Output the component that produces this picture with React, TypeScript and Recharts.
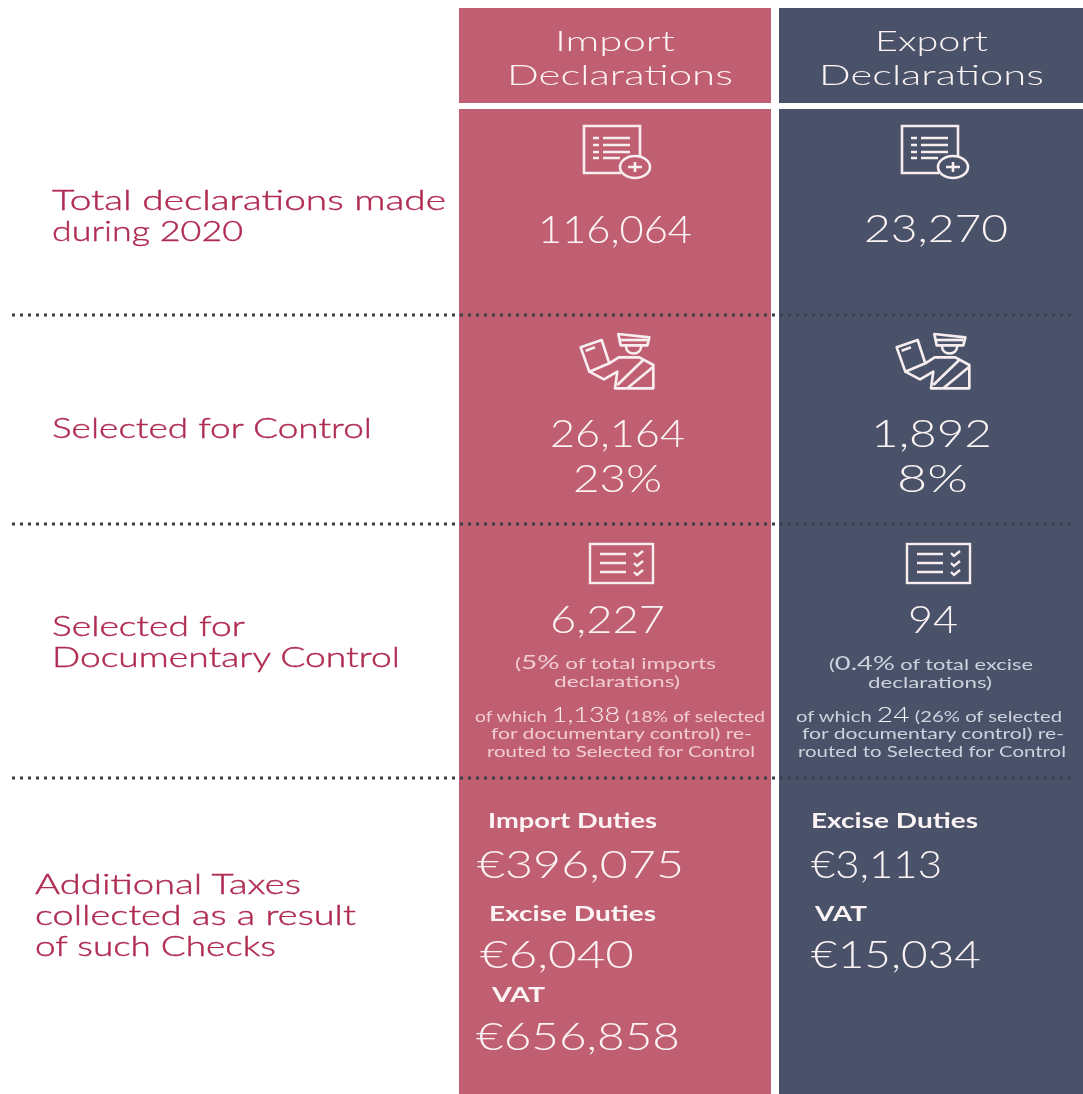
import { Bar, BarChart, Cell, LineChart, ReferenceLine, XAxis, YAxis } from "recharts";

const categories = ["Import", "Export"];
const panelColors = ["#C05F72", "#495269"];
const totalDeclarations = [116064, 23270];
const selectedForControl = [26164, 1892];
const selectedShare = [23, 8];
const documentaryControl = [6227, 94];
const documentaryShare = [5, 0.4];
const rerouted = [1138, 24];
const reroutedShare = [18, 26];
const importTaxLabels = ["Import Duties", "Excise Duties", "VAT"];
const importTaxValues = [396075, 6040, 656858];
const exportTaxLabels = ["Excise Duties", "VAT"];
const exportTaxValues = [3113, 15034];
const rowLabels = [
  ["Total declarations made", "during 2020"],
  ["Selected for Control"],
  ["Selected for", "Documentary Control"],
  ["Additional Taxes", "collected as a result", "of such Checks"],
];
const separators = [315, 524, 778];

const WIDTH = 1095;
const HEIGHT = 1094;
const FONT = "Lato, sans-serif";
const LABEL = "#B02C52";
const SOFT_PINK = "#F0CCD4";
const SOFT_BLUE = "#CDD2DD";

const panels = categories.map((name) => ({ name, top: 8, header: 95, gap: 6, body: 985 }));
const separatorRows = separators.map((y) => ({ y }));
const fmt = (n: number) => n.toLocaleString("en-US");
const overlay = { position: "absolute", left: 0, top: 0 } as const;

function Txt({ x, y, w, size, fill = "#FBF3F4", weight = 300, children }: any) {
  return (
    <text x={x} y={y} textLength={w} lengthAdjust="spacingAndGlyphs" fontSize={size} fontFamily={FONT} fontWeight={weight} fill={fill}>
      {children}
    </text>
  );
}

function RowLabel({ x, y, w, children }: any) {
  return (
    <text x={x} y={y} textLength={w} lengthAdjust="spacingAndGlyphs" fontSize={28} fontFamily={FONT} fontWeight={300} fill={LABEL} stroke={LABEL} strokeWidth={0.4}>
      {children}
    </text>
  );
}

function DocPlus({ x }: { x: number }) {
  return (
    <g transform={`translate(${x},125)`} fill="none" stroke="#F8EEF0" strokeWidth={2.6}>
      <path d="M38 48H1V1H57V31" />
      <path d="M20 13H47M20 20H47M20 27H47M20 33H37" />
      <path d="M10 13H16M10 20H16M10 27H16M10 33H16" />
      <ellipse cx={52} cy={42} rx={15} ry={11} />
      <path d="M45 42H59M52 37V47" />
    </g>
  );
}

function Officer({ x }: { x: number }) {
  return (
    <g transform={`translate(${x},320) scale(0.3333)`} fill="none" stroke="#F8EEF0" strokeWidth={8} strokeLinejoin="round">
      <path d="M122 82L185 60L208 130L148 155Z" />
      <path d="M137 92L165 82" />
      <path d="M208 130L236 112H298L340 135V205H225L232 155L192 178L148 155" />
      <path d="M232 195L312 118M262 205L338 142" />
      <path d="M235 42L328 52L322 76H242Z" />
      <path d="M238 60H322" />
      <path d="M258 78C258 108 302 108 304 78" />
    </g>
  );
}

function CheckList({ x }: { x: number }) {
  return (
    <g transform={`translate(${x},543)`} fill="none" stroke="#F8EEF0" strokeWidth={2.4}>
      <rect x={1} y={1} width={63} height={39} />
      <path d="M11 11H37M11 20H37M11 29H37" />
      <path d="M45 10L48 13L54 8M45 20L48 23L54 18M45 29L48 32L54 27" />
    </g>
  );
}

function Texts() {
  return (
    <svg width={1083} height={1094} style={{ ...overlay, filter: "blur(0.4px)" }}>
      {/* column headers */}
      <Txt x={555} y={51} w={120} size={28}>Import</Txt>
      <Txt x={507} y={85} w={226} size={28}>Declarations</Txt>
      <Txt x={875} y={51} w={113} size={28}>Export</Txt>
      <Txt x={819} y={85} w={225} size={28}>Declarations</Txt>

      {/* left hand row labels */}
      <RowLabel x={52} y={210} w={394}>{rowLabels[0][0]}</RowLabel>
      <RowLabel x={52} y={241} w={191}>{rowLabels[0][1]}</RowLabel>
      <RowLabel x={52} y={438} w={320}>{rowLabels[1][0]}</RowLabel>
      <RowLabel x={52} y={636} w={193}>{rowLabels[2][0]}</RowLabel>
      <RowLabel x={52} y={667} w={348}>{rowLabels[2][1]}</RowLabel>
      <RowLabel x={35} y={894} w={266}>{rowLabels[3][0]}</RowLabel>
      <RowLabel x={35} y={925} w={321}>{rowLabels[3][1]}</RowLabel>
      <RowLabel x={35} y={956} w={241}>{rowLabels[3][2]}</RowLabel>

      {/* totals */}
      <DocPlus x={583} />
      <DocPlus x={901} />
      <Txt x={538} y={243} w={154} size={38}>{fmt(totalDeclarations[0])}</Txt>
      <Txt x={864} y={242} w={144} size={38}>{fmt(totalDeclarations[1])}</Txt>

      {/* selected for control */}
      <Officer x={540} />
      <Officer x={856} />
      <Txt x={550} y={447} w={135} size={38}>{fmt(selectedForControl[0])}</Txt>
      <Txt x={573} y={492} w={89} size={38}>{selectedShare[0]}%</Txt>
      <Txt x={871} y={447} w={121} size={38}>{fmt(selectedForControl[1])}</Txt>
      <Txt x={897} y={492} w={71} size={38}>{selectedShare[1]}%</Txt>

      {/* documentary control */}
      <CheckList x={589} />
      <CheckList x={906} />
      <Txt x={550} y={633} w={115} size={38}>{fmt(documentaryControl[0])}</Txt>
      <Txt x={908} y={633} w={50} size={38}>{fmt(documentaryControl[1])}</Txt>

      <Txt x={515} y={669} w={201} size={16} fill={SOFT_PINK} weight={400}>
        (<tspan fontSize={20}>{documentaryShare[0]}%</tspan> of total imports
      </Txt>
      <Txt x={554} y={687} w={126} size={16} fill={SOFT_PINK} weight={400}>declarations)</Txt>
      <Txt x={475} y={722} w={290} size={15} fill={SOFT_PINK} weight={400}>
        of which <tspan fontSize={21} fontWeight={300} fill="#FBF3F4">{fmt(rerouted[0])}</tspan> ({reroutedShare[0]}% of selected
      </Txt>
      <Txt x={491} y={739} w={261} size={15} fill={SOFT_PINK} weight={400}>for documentary control) re-</Txt>
      <Txt x={487} y={757} w={268} size={15} fill={SOFT_PINK} weight={400}>routed to Selected for Control</Txt>

      <Txt x={829} y={670} w={204} size={16} fill={SOFT_BLUE} weight={400}>
        (<tspan fontSize={20}>{documentaryShare[1]}%</tspan> of total excise
      </Txt>
      <Txt x={868} y={688} w={124} size={16} fill={SOFT_BLUE} weight={400}>declarations)</Txt>
      <Txt x={796} y={722} w={266} size={15} fill={SOFT_BLUE} weight={400}>
        of which <tspan fontSize={21} fontWeight={300} fill="#F3F4F7">{fmt(rerouted[1])}</tspan> ({reroutedShare[1]}% of selected
      </Txt>
      <Txt x={802} y={739} w={262} size={15} fill={SOFT_BLUE} weight={400}>for documentary control) re-</Txt>
      <Txt x={798} y={757} w={268} size={15} fill={SOFT_BLUE} weight={400}>routed to Selected for Control</Txt>

      {/* additional taxes */}
      <Txt x={488} y={828} w={169} size={20} weight={700}>{importTaxLabels[0]}</Txt>
      <Txt x={477} y={878} w={207} size={38}>€{fmt(importTaxValues[0])}</Txt>
      <Txt x={489} y={921} w={167} size={20} weight={700}>{importTaxLabels[1]}</Txt>
      <Txt x={480} y={968} w={154} size={38}>€{fmt(importTaxValues[1])}</Txt>
      <Txt x={492} y={1002} w={53} size={20} weight={700}>{importTaxLabels[2]}</Txt>
      <Txt x={476} y={1050} w={204} size={38}>€{fmt(importTaxValues[2])}</Txt>

      <Txt x={811} y={828} w={167} size={20} weight={700}>{exportTaxLabels[0]}</Txt>
      <Txt x={811} y={878} w={131} size={38}>€{fmt(exportTaxValues[0])}</Txt>
      <Txt x={815} y={921} w={52} size={20} weight={700}>{exportTaxLabels[1]}</Txt>
      <Txt x={811} y={968} w={170} size={38}>€{fmt(exportTaxValues[1])}</Txt>
    </svg>
  );
}

export default function App() {
  return (
    <div style={{ ...overlay, width: 1083, height: 1094, overflow: "hidden", background: "#fff" }}>
      <BarChart width={WIDTH} height={HEIGHT} data={panels} margin={{ top: 0, right: 0, bottom: 0, left: 0 }} barSize={312}>
        <XAxis dataKey="name" type="category" hide padding={{ left: 455, right: 0 }} />
        <YAxis type="number" hide reversed domain={[0, HEIGHT]} allowDataOverflow />
        <Bar dataKey="top" stackId="a" fill="transparent" isAnimationActive={false} />
        <Bar dataKey="header" stackId="a" isAnimationActive={false}>
          {categories.map((c, i) => (
            <Cell key={c} fill={panelColors[i]} />
          ))}
        </Bar>
        <Bar dataKey="gap" stackId="a" fill="transparent" isAnimationActive={false} />
        <Bar dataKey="body" stackId="a" isAnimationActive={false}>
          {categories.map((c, i) => (
            <Cell key={c} fill={panelColors[i]} />
          ))}
        </Bar>
      </BarChart>
      {/* second chart on top, its margins set the span of the dotted rules */}
      <div style={{ ...overlay, filter: "blur(0.5px)" }}>
        <LineChart width={1083} height={HEIGHT} data={separatorRows} margin={{ top: 0, right: 11, bottom: 0, left: 12 }}>
          <XAxis hide />
          <YAxis type="number" hide reversed domain={[0, HEIGHT]} allowDataOverflow />
          {separators.map((y) => (
            <ReferenceLine key={y} y={y} stroke="#3C3F4A" strokeWidth={3} strokeDasharray="3 5" />
          ))}
        </LineChart>
      </div>
      <Texts />
    </div>
  );
}
